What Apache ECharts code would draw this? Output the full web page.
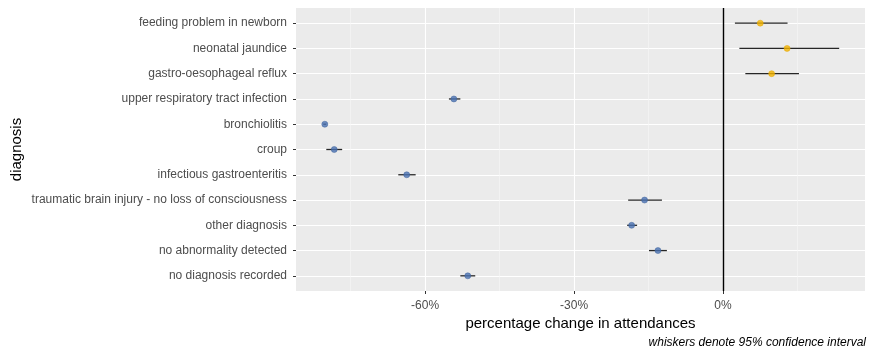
<!DOCTYPE html>
<html>
<head>
<meta charset="utf-8">
<script src="https://cdn.jsdelivr.net/npm/echarts@6/dist/echarts.min.js"></script>
<style>
  html, body { margin: 0; padding: 0; background: #fff; }
  #chart { width: 870px; height: 352px; }
</style>
</head>
<body>
<div id="chart"></div>
<script>
// Diagnosis groups, top to bottom
const categories = [
  'feeding problem in newborn',
  'neonatal jaundice',
  'gastro-oesophageal reflux',
  'upper respiratory tract infection',
  'bronchiolitis',
  'croup',
  'infectious gastroenteritis',
  'traumatic brain injury - no loss of consciousness',
  'other diagnosis',
  'no abnormality detected',
  'no diagnosis recorded'
];
// Percentage change in attendances with 95% confidence bounds
const estimate = [7.5, 12.9, 9.8, -54.2, -80.2, -78.3, -63.7, -15.8, -18.4, -13.1, -51.4];
const lower    = [2.4, 3.3, 4.5, -55.2, -80.5, -79.9, -65.4, -19.1, -19.3, -14.9, -52.9];
const upper    = [13.0, 23.4, 15.3, -52.9, -79.9, -76.7, -61.9, -12.3, -17.3, -11.3, -49.9];
// Axis ticks
const majorTicks = [-60, -30, 0];
const minorTicks = [-75, -45, -15, 15];

const rowIdx = categories.map((_, i) => i);
const whiskerData = categories.map((_, i) => [lower[i], upper[i], i]);
const fallingData = [];
const risingData = [];
categories.forEach((_, i) => {
  (estimate[i] < 0 ? fallingData : risingData).push([estimate[i], i]);
});

const FONT = '"Liberation Sans", Arial, sans-serif';
const X_MIN = -86, X_MAX = 28.6;

const chart = echarts.init(document.getElementById('chart'));
chart.setOption({
  animation: false,
  textStyle: { fontFamily: FONT },
  title: {
    text: 'whiskers denote 95% confidence interval',
    right: 4,
    bottom: 3,
    padding: 0,
    textStyle: { fontFamily: FONT, fontStyle: 'italic', fontWeight: 'normal', fontSize: 12, color: '#000' }
  },
  grid: {
    left: 296, right: 5, top: 8, bottom: 61,
    outerBoundsMode: 'none',
    containLabel: false,
    show: true, backgroundColor: '#EBEBEB', borderWidth: 0
  },
  xAxis: [
    {
      type: 'value', min: X_MIN, max: X_MAX,
      axisLine: { show: false, onZero: false },
      axisTick: { show: true, customValues: majorTicks, length: 3, lineStyle: { color: '#333', width: 1 } },
      axisLabel: {
        customValues: majorTicks, formatter: v => v + '%',
        color: '#4D4D4D', fontSize: 12, margin: 9, fontFamily: FONT
      },
      splitLine: { show: true, lineStyle: { color: '#FFFFFF', width: 1.1 } },
      name: 'percentage change in attendances',
      nameLocation: 'middle', nameGap: 25, nameMoveOverlap: false,
      nameTextStyle: { fontSize: 15, color: '#000', fontFamily: FONT }
    },
    {
      type: 'value', min: X_MIN, max: X_MAX, position: 'bottom',
      axisLine: { show: false, onZero: false },
      axisTick: { show: false, customValues: minorTicks },
      axisLabel: { show: false, customValues: minorTicks },
      splitLine: { show: true, lineStyle: { color: '#F7F7F7', width: 0.6 } }
    }
  ],
  yAxis: {
    type: 'value', min: -0.6, max: 10.6, inverse: true,
    axisLine: { show: false, onZero: false },
    axisTick: { show: true, customValues: rowIdx, length: 3, lineStyle: { color: '#333', width: 1 } },
    axisLabel: {
      customValues: rowIdx, formatter: v => categories[Math.round(v)],
      color: '#4D4D4D', fontSize: 12, margin: 9, fontFamily: FONT
    },
    splitLine: { show: true, lineStyle: { color: '#FFFFFF', width: 1.1 } },
    name: 'diagnosis',
    nameLocation: 'middle', nameRotate: 90, nameGap: 272, nameMoveOverlap: false,
    nameTextStyle: { fontSize: 15, color: '#000', fontFamily: FONT }
  },
  series: [
    {
      type: 'custom',
      name: 'confidence interval',
      data: whiskerData,
      encode: { x: [0, 1], y: 2 },
      silent: true,
      renderItem: (params, api) => {
        const a = api.coord([api.value(0), api.value(2)]);
        const b = api.coord([api.value(1), api.value(2)]);
        return {
          type: 'line',
          shape: { x1: a[0], y1: a[1], x2: b[0], y2: b[1] },
          style: { stroke: '#262626', lineWidth: 1.3 }
        };
      },
      markLine: {
        silent: true, symbol: 'none',
        label: { show: false },
        lineStyle: { color: '#000', width: 1.4, type: 'solid' },
        data: [{ xAxis: 0 }]
      },
      z: 3
    },
    {
      type: 'scatter',
      name: 'decrease',
      data: fallingData,
      symbol: 'circle',
      symbolSize: 6,
      itemStyle: { color: '#4A72B3', borderColor: '#3E6199', borderWidth: 0.6 },
      z: 4
    },
    {
      type: 'scatter',
      name: 'increase',
      data: risingData,
      symbol: 'circle',
      symbolSize: 6,
      itemStyle: { color: '#F4B400', borderColor: '#E3A600', borderWidth: 0.6 },
      z: 4
    }
  ]
});
</script>
</body>
</html>
